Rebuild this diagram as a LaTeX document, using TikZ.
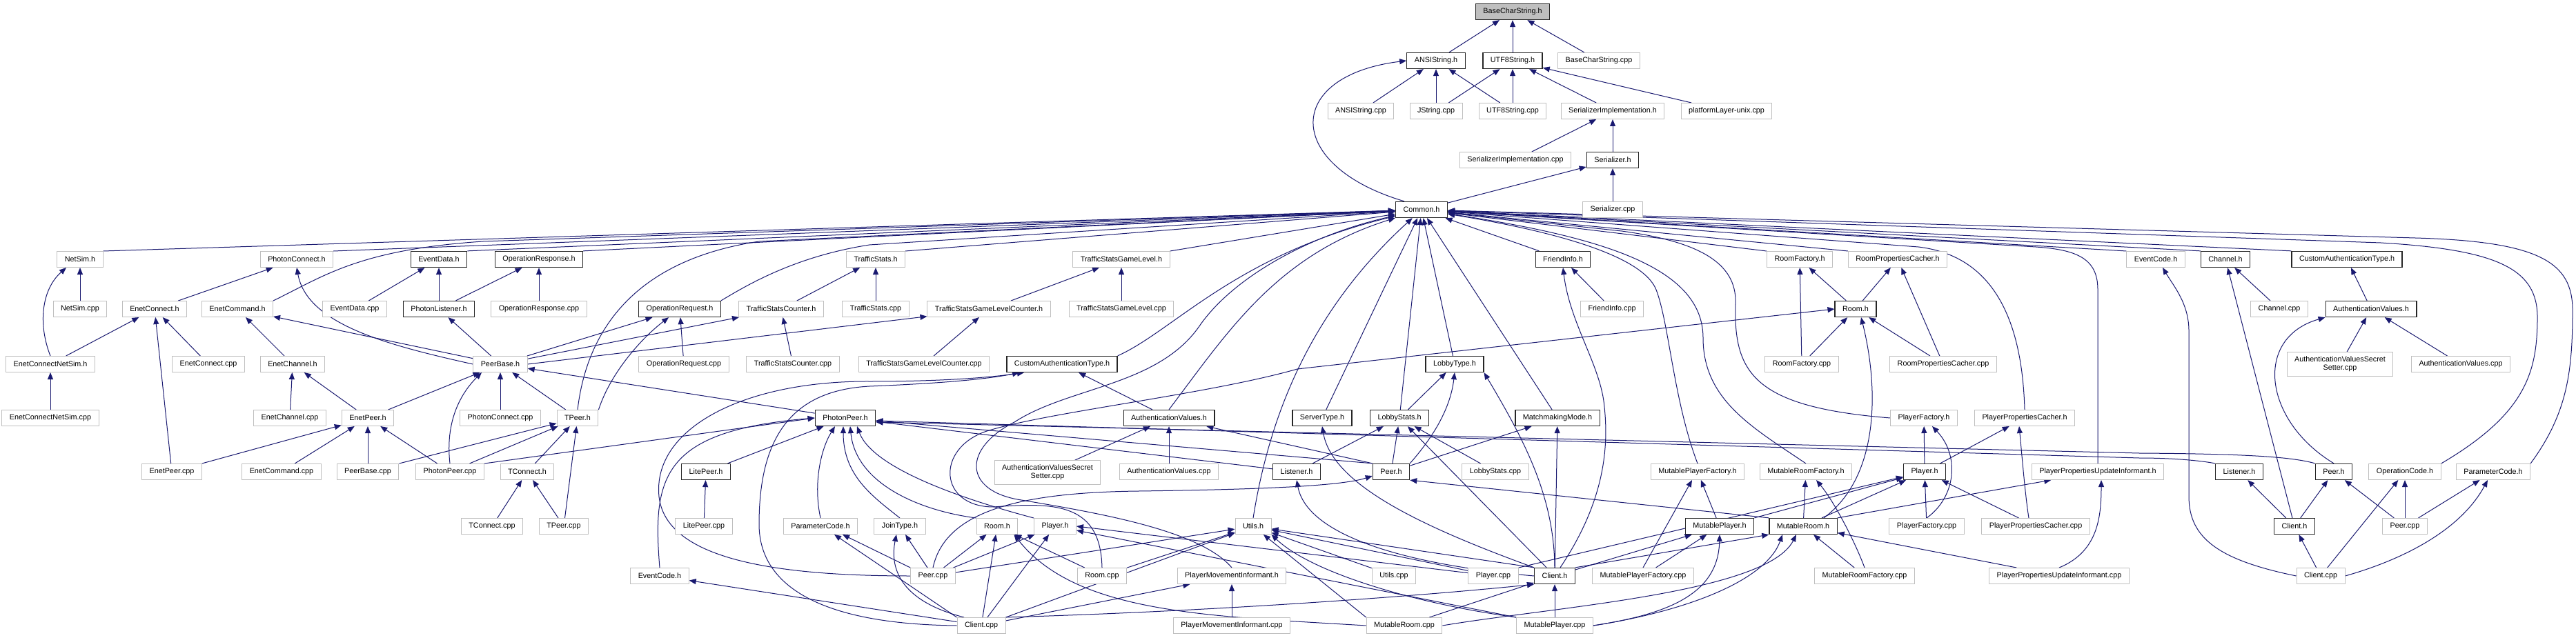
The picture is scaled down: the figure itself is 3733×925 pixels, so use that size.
\documentclass[tikz,border=0pt]{standalone}
\usepackage{fontspec}
\setmainfont{Liberation Sans}
\usepackage{xcolor}
\usepackage{tikz}
\usetikzlibrary{arrows.meta, backgrounds}
\definecolor{edgeblue}{HTML}{191970}
\definecolor{boxgray}{HTML}{BFBFBF}

\begin{document}
\begin{tikzpicture}[
  x=1pt, y=1pt,
  file/.style = {draw=boxgray, line width=1pt, fill=white,
                 font=\fontsize{10.8}{12}\selectfont,
                 minimum height=23pt, inner xsep=11pt, inner ysep=1pt},
  hdr/.style  = {file, draw=black!85, line width=1.3pt},
  root/.style = {hdr, fill=boxgray},
  two/.style  = {file, align=center, minimum height=34.5pt},
  inc/.style  = {draw=edgeblue, line width=1pt,
                 -{Triangle[length=10pt, width=8pt]}}
]
\useasboundingbox (0,0) rectangle (3733,-925);

\node[root] (bcsh) at (2192,-17) {BaseCharString.h};

\node[hdr]  (ansih)  at (2081,-88) {ANSIString.h};
\node[hdr]  (utf8h)  at (2192,-88) {UTF8String.h};
\node[file] (bcscpp) at (2317,-88) {BaseCharString.cpp};

\node[file] (ansicpp)  at (1972,-161) {ANSIString.cpp};
\node[file] (jstrcpp)  at (2081,-161) {JString.cpp};
\node[file] (utf8cpp)  at (2192,-161) {UTF8String.cpp};
\node[file] (serimplh) at (2337,-161) {SerializerImplementation.h};
\node[file] (platcpp)  at (2502,-161) {platformLayer-unix.cpp};

\node[file] (serimplcpp) at (2196,-232) {SerializerImplementation.cpp};
\node[hdr]  (serh)       at (2337,-232) {Serializer.h};

\node[hdr]  (commonh) at (2060,-304) {Common.h};
\node[file] (sercpp)  at (2337,-304) {Serializer.cpp};

\node[file] (netsimh)   at (116,-376)  {NetSim.h};
\node[file] (phconnh)   at (430,-376)  {PhotonConnect.h};
\node[hdr]  (evdatah)   at (636,-376)  {EventData.h};
\node[hdr]  (opresph)   at (781,-376)  {OperationResponse.h};
\node[file] (tsh)       at (1269,-376) {TrafficStats.h};
\node[file] (tsglh)     at (1625,-376) {TrafficStatsGameLevel.h};
\node[hdr]  (friendh)   at (2265,-376) {FriendInfo.h};
\node[file] (roomfacth) at (2608,-376) {RoomFactory.h};
\node[file] (roompch)   at (2750,-376) {RoomPropertiesCacher.h};
\node[file] (evcodeRh)  at (3124,-376) {EventCode.h};
\node[hdr]  (channelh)  at (3225,-376) {Channel.h};
\node[hdr]  (catypeRh)  at (3401,-376) {CustomAuthenticationType.h};

\node[file] (netsimcpp)  at (116,-448)  {NetSim.cpp};
\node[file] (enetconnh)  at (224,-448)  {EnetConnect.h};
\node[file] (enetcmdh)   at (344,-448)  {EnetCommand.h};
\node[file] (evdatacpp)  at (514,-448)  {EventData.cpp};
\node[hdr]  (phlisth)    at (636,-448)  {PhotonListener.h};
\node[file] (oprespcpp)  at (781,-448)  {OperationResponse.cpp};
\node[hdr]  (opreqh)     at (985,-448)  {OperationRequest.h};
\node[file] (tsch)       at (1132,-448) {TrafficStatsCounter.h};
\node[file] (tscpp)      at (1269,-448) {TrafficStats.cpp};
\node[file] (tsglch)     at (1433,-448) {TrafficStatsGameLevelCounter.h};
\node[file] (tsglcpp)    at (1625,-448) {TrafficStatsGameLevel.cpp};
\node[file] (friendcpp)  at (2336,-448) {FriendInfo.cpp};
\node[hdr]  (roomUh)     at (2689,-448) {Room.h};
\node[file] (channelcpp) at (3303,-448) {Channel.cpp};
\node[hdr]  (authvRh)    at (3436,-448) {AuthenticationValues.h};

\node[file] (enetcnsh)    at (73,-528)   {EnetConnectNetSim.h};
\node[file] (enetconncpp) at (302,-528)  {EnetConnect.cpp};
\node[file] (enetchanh)   at (424,-528)  {EnetChannel.h};
\node[file] (peerbaseh)   at (725,-528)  {PeerBase.h};
\node[file] (opreqcpp)    at (991,-528)  {OperationRequest.cpp};
\node[file] (tsccpp)      at (1149,-528) {TrafficStatsCounter.cpp};
\node[file] (tsglccpp)    at (1339,-528) {TrafficStatsGameLevelCounter.cpp};
\node[hdr]  (catypeLh)    at (1539,-528) {CustomAuthenticationType.h};
\node[hdr]  (lobbytypeh)  at (2108,-528) {LobbyType.h};
\node[file] (roomfactcpp) at (2611,-528) {RoomFactory.cpp};
\node[file] (roompccpp)   at (2816,-528) {RoomPropertiesCacher.cpp};
\node[two]  (avsecRcpp)   at (3391,-528) {AuthenticationValuesSecret\\Setter.cpp};
\node[file] (authvRcpp)   at (3566,-528) {AuthenticationValues.cpp};

\node[file] (enetcnscpp)  at (73,-606)   {EnetConnectNetSim.cpp};
\node[file] (enetchancpp) at (420,-606)  {EnetChannel.cpp};
\node[file] (enetpeerh)   at (533,-606)  {EnetPeer.h};
\node[file] (phconncpp)   at (725,-606)  {PhotonConnect.cpp};
\node[file] (tpeerh)      at (837,-606)  {TPeer.h};
\node[hdr]  (phpeerh)     at (1225,-606) {PhotonPeer.h};
\node[hdr]  (authvLh)     at (1694,-606) {AuthenticationValues.h};
\node[hdr]  (servertypeh) at (1916,-606) {ServerType.h};
\node[hdr]  (lobbystatsh) at (2028,-606) {LobbyStats.h};
\node[hdr]  (mmmodeh)     at (2257,-606) {MatchmakingMode.h};
\node[file] (playerfacth) at (2788,-606) {PlayerFactory.h};
\node[file] (playerpch)   at (2934,-606) {PlayerPropertiesCacher.h};

\node[file] (enetpeercpp)   at (249,-684)  {EnetPeer.cpp};
\node[file] (enetcmdcpp)    at (408,-684)  {EnetCommand.cpp};
\node[file] (peerbasecpp)   at (533,-684)  {PeerBase.cpp};
\node[file] (phpeercpp)     at (652,-684)  {PhotonPeer.cpp};
\node[file] (tconnh)        at (764,-684)  {TConnect.h};
\node[hdr]  (litepeerh)     at (1023,-684) {LitePeer.h};
\node[two]  (avsecLcpp)     at (1518,-685) {AuthenticationValuesSecret\\Setter.cpp};
\node[file] (authvLcpp)     at (1694,-684) {AuthenticationValues.cpp};
\node[hdr]  (listenerLh)    at (1879,-684) {Listener.h};
\node[hdr]  (peerLh)        at (2016,-684) {Peer.h};
\node[file] (lobbystatscpp) at (2167,-684) {LobbyStats.cpp};
\node[file] (mplayerfacth)  at (2460,-684) {MutablePlayerFactory.h};
\node[file] (mroomfacth)    at (2617,-684) {MutableRoomFactory.h};
\node[hdr]  (playerRh)      at (2789,-684) {Player.h};
\node[file] (ppuih)         at (3040,-684) {PlayerPropertiesUpdateInformant.h};
\node[hdr]  (listenerRh)    at (3245,-684) {Listener.h};
\node[hdr]  (peerRh)        at (3382,-684) {Peer.h};
\node[file] (opcodeh)       at (3485,-684) {OperationCode.h};
\node[file] (paramcodeRh)   at (3613,-684) {ParameterCode.h};

\node[file] (tconncpp)      at (713,-763)  {TConnect.cpp};
\node[file] (tpeercpp)      at (817,-763)  {TPeer.cpp};
\node[file] (litepeercpp)   at (1020,-763) {LitePeer.cpp};
\node[file] (paramcodeLh)   at (1189,-763) {ParameterCode.h};
\node[file] (jointypeh)     at (1304,-763) {JoinType.h};
\node[file] (roomLh)        at (1445,-763) {Room.h};
\node[file] (playerLh)      at (1529,-763) {Player.h};
\node[file] (utilsh)        at (1816,-763) {Utils.h};
\node[hdr]  (mplayerh)      at (2492,-763) {MutablePlayer.h};
\node[hdr]  (mroomh)        at (2613,-763) {MutableRoom.h};
\node[file] (playerfactcpp) at (2792,-763) {PlayerFactory.cpp};
\node[file] (playerpccpp)   at (2950,-763) {PlayerPropertiesCacher.cpp};
\node[hdr]  (clientRh)      at (3325,-763) {Client.h};
\node[file] (peerRcpp)      at (3485,-763) {Peer.cpp};

\node[file] (evcodeLh)       at (956,-835)  {EventCode.h};
\node[file] (peerLcpp)       at (1352,-835) {Peer.cpp};
\node[file] (roomcpp)        at (1597,-835) {Room.cpp};
\node[file] (pmih)           at (1785,-835) {PlayerMovementInformant.h};
\node[file] (utilscpp)       at (2020,-835) {Utils.cpp};
\node[file] (playercpp)      at (2164,-835) {Player.cpp};
\node[hdr]  (clientLh)       at (2253,-835) {Client.h};
\node[file] (mplayerfactcpp) at (2381,-835) {MutablePlayerFactory.cpp};
\node[file] (mroomfactcpp)   at (2702,-835) {MutableRoomFactory.cpp};
\node[file] (ppuicpp)        at (2984,-835) {PlayerPropertiesUpdateInformant.cpp};
\node[file] (clientRcpp)     at (3363,-835) {Client.cpp};

\node[file] (clientLcpp) at (1422,-907) {Client.cpp};
\node[file] (pmicpp)     at (1785,-907) {PlayerMovementInformant.cpp};
\node[file] (mroomcpp)   at (2035,-907) {MutableRoom.cpp};
\node[file] (mplayercpp) at (2253,-907) {MutablePlayer.cpp};

\begin{scope}[on background layer]
\fill[white] (0,0) rectangle (3733,-925);

\draw[inc] (ansih) -- (bcsh);
\draw[inc] (utf8h) -- (bcsh);
\draw[inc] (bcscpp) -- (bcsh);
\draw[inc] (ansicpp) -- (ansih);
\draw[inc] (jstrcpp) -- (ansih);
\draw[inc] (jstrcpp) -- (utf8h);
\draw[inc] (utf8cpp) -- (ansih);
\draw[inc] (utf8cpp) -- (utf8h);
\draw[inc] (serimplh) -- (utf8h);
\draw[inc] (platcpp) -- (utf8h);
\draw[inc] (serimplcpp) -- (serimplh);
\draw[inc] (serh) -- (serimplh);
\draw[inc] (sercpp) -- (serh);
\draw[inc] (commonh) -- (serh);
\draw[inc] ([xshift=-25pt]commonh.north) .. controls (1860,-240) and (1860,-110) .. (ansih.west);

\draw[inc] (netsimh.north east) -- (commonh);
\draw[inc] (phconnh.north east) -- (commonh);
\draw[inc] (evdatah.north east) -- (commonh);
\draw[inc] (opresph.north east) -- (commonh);
\draw[inc] (tsh.north east) -- (commonh);
\draw[inc] (tsglh.north east) -- (commonh);
\draw[inc] (enetcmdh.north east) .. controls (470,-400) and (520,-362) .. (700,-350) -- (commonh);
\draw[inc] (opreqh.north east) .. controls (1080,-415) and (1150,-372) .. (1260,-355) -- (commonh);
\draw[inc] (tpeerh.north) .. controls (848,-500) and (900,-380) .. (1100,-350) -- (commonh);
\draw[inc] (catypeLh.north east) .. controls (1700,-480) and (1790,-370) .. (commonh);
\draw[inc] (authvLh.north) .. controls (1780,-480) and (1850,-370) .. (commonh);
\draw[inc] (utilsh.north) .. controls (1840,-600) and (1900,-450) .. (commonh);
\draw[inc] (pmih.north) .. controls (1740,-770) and (1600,-745) .. (1480,-725)
  .. controls (1395,-712) and (1395,-650) .. (1470,-612)
  .. controls (1550,-560) and (1680,-560) .. (1740,-470)
  .. controls (1790,-400) and (1900,-340) .. (commonh);
\draw[inc] (servertypeh) -- (commonh);
\draw[inc] (lobbystatsh) -- (commonh);
\draw[inc] (lobbytypeh) -- (commonh);
\draw[inc] (mmmodeh) -- (commonh);
\draw[inc] (friendh) -- (commonh);
\draw[inc] (roomfacth.north west) -- (commonh);
\draw[inc] (roompch.north west) -- (commonh);
\draw[inc] (evcodeRh.north west) -- (commonh);
\draw[inc] (channelh.north west) -- (commonh);
\draw[inc] (catypeRh.north west) -- (commonh);
\draw[inc] (playerfacth.west) .. controls (2540,-590) and (2512,-540) .. (2515,-440)
  .. controls (2517,-380) and (2460,-350) .. (2350,-335) -- (commonh);
\draw[inc] (playerpch.north) .. controls (2930,-450) and (2880,-370) .. (2780,-358) -- (commonh);
\draw[inc] (ppuih.north) -- (3040,-420) .. controls (3040,-375) and (3010,-362) .. (2950,-358) -- (commonh);
\draw[inc] (opcodeh.north east) .. controls (3660,-600) and (3677,-540) .. (3677,-460)
  .. controls (3677,-390) and (3620,-362) .. (3450,-352) -- (commonh);
\draw[inc] (paramcodeRh.north east) .. controls (3720,-600) and (3728,-540) .. (3728,-450)
  .. controls (3728,-380) and (3680,-350) .. (3500,-345) -- (commonh);
\draw[inc] (mplayerfacth.north) .. controls (2425,-580) and (2419,-470) .. (2400,-420)
  .. controls (2380,-370) and (2250,-335) .. (commonh);
\draw[inc] (mroomfacth.north) .. controls (2540,-620) and (2468,-580) .. (2468,-490)
  .. controls (2468,-390) and (2330,-345) .. (commonh);

\draw[inc] (friendcpp) -- (friendh);
\draw[inc] ([xshift=8pt]clientLh.north) .. controls (2330,-720) and (2330,-640) .. (2325,-590)
  .. controls (2320,-530) and (2275,-470) .. (friendh.south);
\draw[inc] (roomUh) -- (roomfacth);
\draw[inc] (roomUh) -- (roompch);
\draw[inc] (roomfactcpp) -- (roomfacth);
\draw[inc] (roomfactcpp) -- (roomUh);
\draw[inc] (roompccpp) -- (roomUh);
\draw[inc] (roompccpp) -- (roompch);
\draw[inc] ([xshift=30pt]mroomh.north) .. controls (2725,-690) and (2722,-560) .. ([xshift=8pt]roomUh.south);
\draw[inc] (roomcpp.north) .. controls (1595,-730) and (1530,-728) .. (1440,-735)
  .. controls (1360,-735) and (1355,-650) .. (1430,-625)
  .. controls (1520,-597) and (1750,-572) .. (1880,-535) -- (roomUh.west);

\draw[inc] (clientRcpp.west) .. controls (3215,-812) and (3172,-780) .. (3172,-720) -- (3172,-480)
  .. controls (3172,-440) and (3150,-415) .. ([xshift=10pt]evcodeRh.south);
\draw[inc] (clientRh) -- (channelh);
\draw[inc] (channelcpp) -- (channelh);
\draw[inc] (authvRh) -- (catypeRh);
\draw[inc] (avsecRcpp) -- (authvRh);
\draw[inc] (authvRcpp) -- (authvRh);
\draw[inc] (peerRh.north) .. controls (3280,-610) and (3265,-490) .. (authvRh.south west);
\draw[inc] (clientRh) -- (listenerRh);
\draw[inc] (clientRh) -- (peerRh);
\draw[inc] (clientRcpp) -- (clientRh);
\draw[inc] (clientRcpp) -- (opcodeh);
\draw[inc] (clientRcpp.east) .. controls (3480,-812) and (3565,-770) .. ([xshift=-8pt]paramcodeRh.south);
\draw[inc] (peerRcpp) -- (peerRh);
\draw[inc] (peerRcpp) -- (opcodeh);
\draw[inc] (peerRcpp) -- (paramcodeRh);
\draw[inc] (listenerRh.north west) .. controls (3190,-668) and (3150,-664) .. (3100,-664) -- ([yshift=-4pt]phpeerh.east);
\draw[inc] (peerRh.north west) .. controls (3320,-662) and (3250,-658) .. (3100,-657) -- ([yshift=-6pt]phpeerh.east);

\draw[inc] (listenerLh) -- (phpeerh);
\draw[inc] (peerLh.north west) -- (phpeerh);
\draw[inc] (peerLh.north west) -- (authvLh);
\draw[inc] (litepeerh) -- (phpeerh);
\draw[inc] (litepeercpp) -- (litepeerh);
\draw[inc] (paramcodeLh.north) .. controls (1178,-700) and (1190,-650) .. ([xshift=-15pt]phpeerh.south);
\draw[inc] (evcodeLh.north) .. controls (945,-690) and (960,-625) .. (phpeerh.west);
\draw[inc] (jointypeh.north) .. controls (1265,-720) and (1222,-690) .. ([xshift=-3pt]phpeerh.south);
\draw[inc] (roomLh.north west) .. controls (1330,-740) and (1240,-700) .. ([xshift=7pt]phpeerh.south);
\draw[inc] (playerLh.north west) .. controls (1400,-725) and (1265,-680) .. ([xshift=17pt]phpeerh.south);
\draw[inc] (phpeercpp.north east) -- (phpeerh.west);
\draw[inc] (phpeerh) -- (peerbaseh);

\draw[inc] (peerbaseh) -- (phlisth);
\draw[inc] (peerbaseh) -- (opreqh);
\draw[inc] (peerbaseh) -- (tsch);
\draw[inc] (peerbaseh.east) -- (tsglch);
\draw[inc] (peerbaseh) -- (enetcmdh);
\draw[inc] (peerbaseh.west) .. controls (560,-500) and (445,-470) .. (phconnh.south);
\draw[inc] (phconncpp) -- (peerbaseh);
\draw[inc] (tpeerh) -- (peerbaseh);
\draw[inc] (enetpeerh) -- (peerbaseh);
\draw[inc] (phpeercpp.north) .. controls (645,-610) and (668,-570) .. ([xshift=-27pt]peerbaseh.south);
\draw[inc] (phpeercpp) -- (tpeerh);
\draw[inc] (phpeercpp) -- (enetpeerh);
\draw[inc] (peerbasecpp) -- (enetpeerh);
\draw[inc] (peerbasecpp.north east) -- (tpeerh);
\draw[inc] (tconnh) -- (tpeerh);
\draw[inc] (tpeercpp) -- (tpeerh);
\draw[inc] (tconncpp) -- (tconnh);
\draw[inc] (tpeercpp) -- (tconnh);
\draw[inc] (tpeerh.north east) .. controls (885,-540) and (930,-490) .. (opreqh);
\draw[inc] (opreqcpp) -- (opreqh);
\draw[inc] (tsccpp) -- (tsch);
\draw[inc] (tsch) -- (tsh);
\draw[inc] (tscpp) -- (tsh);
\draw[inc] (tsglch) -- (tsglh);
\draw[inc] (tsglcpp) -- (tsglh);
\draw[inc] (tsglccpp) -- (tsglch);
\draw[inc] (phlisth) -- (evdatah);
\draw[inc] (phlisth) -- (opresph);
\draw[inc] (evdatacpp) -- (evdatah);
\draw[inc] (oprespcpp) -- (opresph);

\draw[inc] (netsimcpp) -- (netsimh);
\draw[inc] (enetcnsh.north) .. controls (55,-470) and (60,-420) .. ([xshift=-20pt]netsimh.south);
\draw[inc] (enetcnsh) -- (enetconnh);
\draw[inc] (enetcnscpp) -- (enetcnsh);
\draw[inc] (enetconnh) -- (phconnh);
\draw[inc] (enetconncpp) -- (enetconnh);
\draw[inc] (enetpeercpp) -- (enetconnh);
\draw[inc] (enetchanh) -- (enetcmdh);
\draw[inc] (enetchancpp) -- (enetchanh);
\draw[inc] (enetpeerh) -- (enetchanh);
\draw[inc] (enetpeercpp) -- (enetpeerh);
\draw[inc] (enetcmdcpp) -- (enetpeerh);

\draw[inc] (authvLh) -- (catypeLh);
\draw[inc] (avsecLcpp) -- (authvLh);
\draw[inc] (authvLcpp) -- (authvLh);

\draw[inc] (peerLcpp) -- (jointypeh);
\draw[inc] (peerLcpp) -- (roomLh);
\draw[inc] (peerLcpp) -- (playerLh);
\draw[inc] (peerLcpp) -- (utilsh);
\draw[inc] (peerLcpp.north west) -- ([xshift=32pt]paramcodeLh.south);
\draw[inc] (peerLcpp.north) .. controls (1370,-740) and (1480,-714) .. (1650,-712)
  .. controls (1800,-710) and (1940,-706) .. ([yshift=-6pt]peerLh.west);
\draw[inc] (peerLcpp.west) .. controls (1120,-835) and (965,-810) .. (955,-720)
  .. controls (945,-620) and (1080,-552) .. (1260,-553)
  .. controls (1360,-553) and (1430,-548) .. ([xshift=-55pt]catypeLh.south);
\draw[inc] (clientLcpp.west) .. controls (1190,-905) and (1100,-850) .. (1100,-760)
  .. controls (1100,-630) and (1150,-566) .. (1260,-560)
  .. controls (1360,-556) and (1430,-550) .. ([xshift=-62pt]catypeLh.south);
\draw[inc] (clientLcpp) -- (roomLh);
\draw[inc] (clientLcpp) -- (playerLh);
\draw[inc] (clientLcpp.north east) -- (utilsh);
\draw[inc] (clientLcpp) -- (pmih);
\draw[inc] (clientLcpp.north east) .. controls (1800,-885) and (2100,-860) .. (clientLh.south west);
\draw[inc] ([xshift=-25pt]clientLcpp.north) .. controls (1300,-870) and (1290,-820) .. ([xshift=-5pt]jointypeh.south);
\draw[inc] (clientLcpp) -- (evcodeLh);
\draw[inc] (clientLcpp.north west) -- ([xshift=20pt]paramcodeLh.south);
\draw[inc] (roomcpp) -- (roomLh);
\draw[inc] (roomcpp) -- (utilsh);
\draw[inc] (pmicpp) -- (pmih);

\draw[inc] (mroomcpp.west) .. controls (1750,-893) and (1560,-890) .. ([xshift=-6pt]roomLh.south east);
\draw[inc] (mroomcpp) -- (clientLh);
\draw[inc] (mroomcpp.north west) -- (utilsh);
\draw[inc] (mroomcpp.east) .. controls (2250,-880) and (2560,-860) .. ([xshift=-10pt]mroomh.south);
\draw[inc] (mplayercpp) -- (clientLh);
\draw[inc] (mplayercpp.north west) .. controls (2050,-875) and (1900,-830) .. (utilsh.south east);
\draw[inc] (mplayercpp.north west) -- ([yshift=-6pt]playerLh.east);
\draw[inc] (mplayercpp.east) .. controls (2420,-890) and (2490,-860) .. (mplayerh.south);
\draw[inc] (mplayercpp.east) .. controls (2450,-885) and (2560,-840) .. ([xshift=-30pt]mroomh.south);
\draw[inc] (playercpp) -- (playerLh.east);
\draw[inc] (playercpp) -- (utilsh);
\draw[inc] (utilscpp) -- (utilsh);
\draw[inc] (playercpp.north east) -- (playerRh);

\draw[inc] (clientLh.north west) -- (utilsh);
\draw[inc] (clientLh) -- (lobbystatsh);
\draw[inc] (clientLh.north) .. controls (2252,-720) and (2210,-640) .. (lobbytypeh.south east);
\draw[inc] (clientLh) -- (mmmodeh);
\draw[inc] (clientLh.north west) .. controls (2050,-760) and (1930,-700) .. (servertypeh.south);
\draw[inc] (clientLh.west) .. controls (2050,-820) and (1895,-780) .. (listenerLh.south);
\draw[inc] (clientLh) -- (mplayerh);
\draw[inc] (clientLh.north east) -- (mroomh.south west);

\draw[inc] (mplayerfactcpp) -- (mplayerh);
\draw[inc] (mplayerfactcpp.north) -- ([xshift=-8pt]mplayerfacth.south);
\draw[inc] (mplayerh) -- (mplayerfacth);
\draw[inc] (mplayerh.north east) -- (playerRh);
\draw[inc] (mroomh) -- (playerRh);
\draw[inc] (mroomh) -- (mroomfacth);
\draw[inc] (mroomh.north east) -- (ppuih);
\draw[inc] (mroomh.north west) -- (peerLh.south east);
\draw[inc] (mroomfactcpp) -- (mroomh);
\draw[inc] (mroomfactcpp.north) .. controls (2690,-790) and (2660,-730) .. ([xshift=15pt]mroomfacth.south);
\draw[inc] (ppuicpp) -- (mroomh);
\draw[inc] (ppuicpp.north) .. controls (3040,-800) and (3045,-750) .. ([xshift=5pt]ppuih.south);
\draw[inc] (playerRh) -- (playerfacth);
\draw[inc] (playerRh) -- (playerpch);
\draw[inc] (playerfactcpp) -- (playerRh);
\draw[inc] (playerfactcpp.north) .. controls (2835,-720) and (2840,-660) .. ([xshift=12pt]playerfacth.south);
\draw[inc] (playerpccpp) -- (playerRh);
\draw[inc] ([xshift=-10pt]playerpccpp.north) .. controls (2935,-720) and (2930,-660) .. ([xshift=-8pt]playerpch.south);

\draw[inc] (listenerLh) -- (lobbystatsh);
\draw[inc] (peerLh) -- (lobbystatsh);
\draw[inc] (peerLh.north east) .. controls (2080,-630) and (2102,-590) .. (lobbytypeh.south);
\draw[inc] (peerLh) -- (mmmodeh);
\draw[inc] (lobbystatscpp) -- (lobbystatsh);
\draw[inc] (lobbystatsh) -- (lobbytypeh);
\end{scope}
\end{tikzpicture}
\end{document}
